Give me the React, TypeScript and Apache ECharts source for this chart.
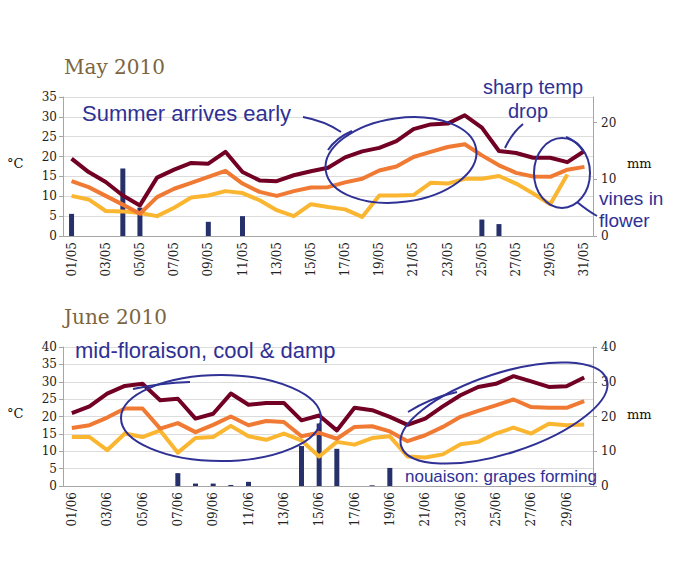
import React, { useEffect, useRef } from "react";
import * as echarts from "echarts";

const mayDays = ["01/05","02/05","03/05","04/05","05/05","06/05","07/05","08/05","09/05","10/05","11/05","12/05","13/05","14/05","15/05","16/05","17/05","18/05","19/05","20/05","21/05","22/05","23/05","24/05","25/05","26/05","27/05","28/05","29/05","30/05","31/05"];
const mayMax = [19.5,16.1,13.6,10.2,7.7,14.7,16.7,18.4,18.2,21.2,16.1,14.0,13.8,15.3,16.3,17.2,19.8,21.3,22.2,23.9,26.9,28.1,28.3,30.4,27.3,21.4,20.9,19.7,19.7,18.6,21.4];
const mayAvg = [13.8,12.3,10.1,7.9,5.6,9.8,11.9,13.4,14.9,16.4,13.2,11.1,10.1,11.3,12.2,12.3,13.5,14.4,16.5,17.5,19.9,21.2,22.4,23.1,20.3,17.8,15.9,15.0,14.9,16.7,17.4];
const mayMin = [10.1,9.2,6.3,6.2,5.8,5.0,7.1,9.7,10.2,11.3,10.8,9.0,6.5,5.0,8.0,7.3,6.7,4.8,10.2,10.2,10.3,13.4,13.2,14.4,14.4,15.1,13.2,10.7,8.0,15.5,null];
const mayRain = [3.9,0,0,11.9,5.0,0,0,0,2.5,0,3.5,0,0,0,0,0,0,0,0,0,0,0,0,0,2.9,2.1,0,0,0,0,0];

const juneDays = ["01/06","02/06","03/06","04/06","05/06","06/06","07/06","08/06","09/06","10/06","11/06","12/06","13/06","14/06","15/06","16/06","17/06","18/06","19/06","20/06","21/06","22/06","23/06","24/06","25/06","26/06","27/06","28/06","29/06","30/06"];
const juneMax = [21.0,22.9,26.6,28.8,29.4,24.7,25.1,19.4,20.8,26.6,23.4,23.9,23.9,18.9,20.3,16.0,22.5,21.8,19.9,17.6,19.4,22.9,26.1,28.5,29.4,31.6,30.1,28.5,28.7,31.2];
const juneAvg = [16.7,17.5,19.7,22.3,22.3,16.5,18.1,15.5,17.6,20.0,17.5,18.7,18.4,14.3,15.3,13.6,17.0,17.2,15.7,12.9,14.6,17.0,19.9,21.6,23.2,24.9,22.7,22.5,22.5,24.4];
const juneMin = [14.1,14.1,10.3,15.1,14.1,16.0,9.6,13.8,14.1,17.3,14.3,13.3,15.1,13.1,8.5,12.7,11.9,13.8,14.3,8.5,8.2,9.1,12.0,12.7,15.1,16.8,15.1,17.9,17.5,17.7];
const juneRain = [0,0,0,0,0,0,3.7,0.7,0.7,0.3,1.2,0,0,11.5,18.0,10.7,0,0.2,5.2,0,0,0,0,0,0,0,0,0,0,0];

const C_MAX = "#720024";
const C_AVG = "#f07a33";
const C_MIN = "#fbb631";
const C_RAIN = "#26306a";
const C_PEN = "#2f3194";
const SERIF = "DejaVu Serif";
const HAND = "Liberation Sans";
const GRID_C = "#dcdcdc";
const AXIS_C = "#a6a6a6";

function xAxisFor(grid: number, data: string[]) {
  return {
    type: "category",
    gridIndex: grid,
    data,
    boundaryGap: true,
    axisLine: { lineStyle: { color: AXIS_C } },
    axisTick: { interval: 0, alignWithLabel: false, length: 5, lineStyle: { color: AXIS_C } },
    axisLabel: { interval: 1, rotate: 90, margin: 6, fontFamily: SERIF, fontSize: 12, color: "#222" },
    splitLine: { show: false },
  };
}

function leftAxis(grid: number, max: number) {
  return {
    type: "value",
    gridIndex: grid,
    position: "left",
    min: 0,
    max,
    interval: 5,
    axisLine: { show: true, lineStyle: { color: AXIS_C } },
    axisTick: { show: true, length: 4, lineStyle: { color: AXIS_C } },
    axisLabel: { margin: 6, fontFamily: SERIF, fontSize: 12, color: "#222" },
    splitLine: { show: true, lineStyle: { color: GRID_C } },
  };
}

function rightAxis(grid: number, max: number) {
  return {
    type: "value",
    gridIndex: grid,
    position: "right",
    min: 0,
    max,
    interval: 10,
    axisLine: { show: true, lineStyle: { color: AXIS_C } },
    axisTick: { show: true, length: 4, lineStyle: { color: AXIS_C } },
    axisLabel: { margin: 8, fontFamily: SERIF, fontSize: 12, color: "#222", showMaxLabel: max % 10 === 0 },
    splitLine: { show: false },
  };
}

function lineSeries(name: string, data: (number | null)[], color: string, xi: number, yi: number) {
  return {
    name,
    type: "line",
    data,
    xAxisIndex: xi,
    yAxisIndex: yi,
    showSymbol: false,
    symbol: "none",
    lineStyle: { width: 4, color, join: "round" },
    itemStyle: { color },
    z: 5,
  };
}

function barSeries(name: string, data: number[], xi: number, yi: number) {
  return {
    name,
    type: "bar",
    data,
    xAxisIndex: xi,
    yAxisIndex: yi,
    barWidth: 5,
    itemStyle: { color: C_RAIN },
    z: 2,
  };
}

const penText = (text: string, x: number, y: number, size = 22, align = "left") => ({
  type: "text",
  x,
  y,
  z: 100,
  style: {
    text,
    fill: C_PEN,
    fontFamily: HAND,
    fontSize: size,
    lineHeight: size,
    verticalAlign: "middle",
    align,
  },
});

const penEllipse = (cx: number, cy: number, rx: number, ry: number, rotDeg: number) => ({
  type: "ellipse",
  x: cx,
  y: cy,
  rotation: (rotDeg * Math.PI) / 180,
  z: 100,
  shape: { cx: 0, cy: 0, rx, ry },
  style: { fill: "none", stroke: C_PEN, lineWidth: 2 },
});

const penCurve = (x1: number, y1: number, cx: number, cy: number, x2: number, y2: number) => ({
  type: "bezierCurve",
  z: 100,
  shape: { x1, y1, cpx1: cx, cpy1: cy, x2, y2 },
  style: { fill: "none", stroke: C_PEN, lineWidth: 2 },
});

const plainText = (text: string, x: number, y: number, size: number, color: string) => ({
  type: "text",
  x,
  y,
  z: 50,
  style: { text, fill: color, fontFamily: SERIF, fontSize: size, lineHeight: size, verticalAlign: "middle", align: "left" },
});

export default function App() {
  const ref = useRef<HTMLDivElement>(null);
  useEffect(() => {
    if (!ref.current) return;
    const chart = echarts.init(ref.current, undefined, { renderer: "svg" });
    chart.setOption({
      animation: false,
      backgroundColor: "#ffffff",
      grid: [
        { left: 63, top: 97, width: 530, height: 139 },
        { left: 63, top: 347, width: 530, height: 139 },
      ],
      xAxis: [xAxisFor(0, mayDays), xAxisFor(1, juneDays)],
      yAxis: [leftAxis(0, 35), rightAxis(0, 24.5), leftAxis(1, 40), rightAxis(1, 40)],
      series: [
        barSeries("May rain", mayRain, 0, 1),
        lineSeries("May min", mayMin, C_MIN, 0, 0),
        lineSeries("May avg", mayAvg, C_AVG, 0, 0),
        lineSeries("May max", mayMax, C_MAX, 0, 0),
        barSeries("June rain", juneRain, 1, 3),
        lineSeries("June min", juneMin, C_MIN, 1, 2),
        lineSeries("June avg", juneAvg, C_AVG, 1, 2),
        lineSeries("June max", juneMax, C_MAX, 1, 2),
      ],
      graphic: [
        plainText("May 2010", 64, 67, 20, "#7d6440"),
        plainText("°C", 7, 163, 13, "#111"),
        plainText("mm", 627, 163, 13, "#111"),
        plainText("June 2010", 64, 317, 20, "#7d6440"),
        plainText("°C", 7, 413, 13, "#111"),
        plainText("mm", 627, 414, 13, "#111"),

        penText("Summer arrives early", 82, 113, 22),
        penCurve(303, 117, 325, 121, 341, 132),
        penEllipse(401, 160, 76, 42, 8),
        penCurve(328, 150, 336, 138, 352, 131),
        penText("sharp temp", 533, 87, 20, "center"),
        penText("drop", 528, 111, 20, "center"),
        penCurve(523, 124, 512, 133, 505, 148),
        penEllipse(562, 173, 28, 35, 0),
        penCurve(566, 137, 577, 141, 583, 151),
        penText("vines in", 599, 198, 19),
        penText("flower", 599, 220, 19),
        penCurve(577, 202, 588, 211, 597, 216),

        penText("mid-floraison, cool & damp", 75, 350, 22),
        penEllipse(221, 418, 100, 43, 0),
        penCurve(133, 389, 160, 383, 190, 382),
        penEllipse(504, 413, 108, 40, 18),
        penCurve(408, 412, 430, 398, 457, 392),
        penText("nouaison: grapes forming", 405, 476, 17),
      ],
    });
    return () => chart.dispose();
  }, []);
  return (
    <div
      ref={ref}
      style={{ position: "fixed", left: 0, top: 0, width: 696, height: 587, background: "#fff" }}
    />
  );
}
